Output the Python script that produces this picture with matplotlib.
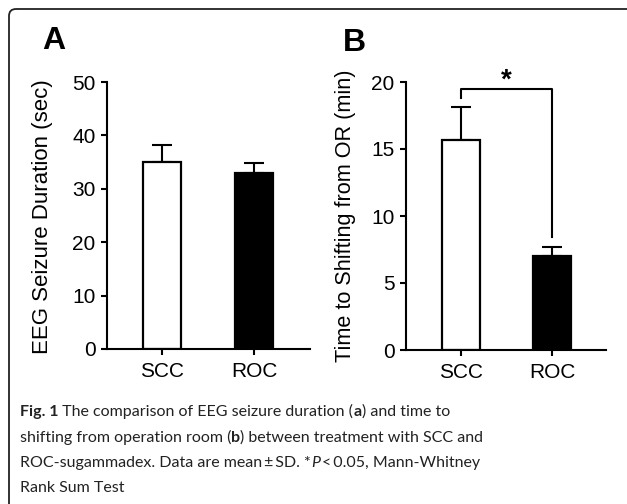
import matplotlib
matplotlib.use('Agg')
import matplotlib.pyplot as plt
from matplotlib.patches import FancyBboxPatch

plt.rcParams['font.family'] = ['Liberation Sans', 'DejaVu Sans']

groups = ['SCC', 'ROC']
eeg_mean = [35.0, 32.9]
eeg_sd = [3.2, 1.9]
shift_mean = [15.65, 7.05]
shift_sd = [2.45, 0.65]
bar_colors = ['white', 'black']

caption_lines = [
    [('Fig. 1', 'bold', 'normal'), (' The comparison of EEG seizure duration (', 'normal', 'normal'),
     ('a', 'bold', 'normal'), (') and time to', 'normal', 'normal')],
    [('shifting from operation room (', 'normal', 'normal'), ('b', 'bold', 'normal'),
     (') between treatment with SCC and', 'normal', 'normal')],
    [('ROC-sugammadex. Data are mean\u2009\u00b1\u2009SD. *', 'normal', 'normal'), ('P', 'normal', 'italic'),
     ('\u2009<\u20090.05, Mann-Whitney', 'normal', 'normal')],
    [('Rank Sum Test', 'normal', 'normal')],
]

W, H = 627, 504
fig = plt.figure(figsize=(W / 100, H / 100), dpi=100)

# overlay in pixel coordinates for frame, letters and caption
bg = fig.add_axes([0, 0, 1, 1])
bg.set_xlim(0, W)
bg.set_ylim(H, 0)
bg.axis('off')
frame = FancyBboxPatch((9, 9), 640, 520, boxstyle='round,pad=0,rounding_size=7',
                       fill=False, edgecolor='#222222', linewidth=1.3)
bg.add_patch(frame)
bg.text(53.5, 41, 'A', fontsize=23, fontweight='bold', ha='center', va='center')
bg.text(354, 43, 'B', fontsize=23, fontweight='bold', ha='center', va='center')
bg.text(43, 217, 'EEG Seizure Duration (sec)', fontsize=16, rotation=90, ha='center', va='center')
bg.text(345, 216, 'Time to Shifting from OR (min)', fontsize=15.6, rotation=90, ha='center', va='center')


def setup(ax, ymax, step):
    ax.spines['top'].set_visible(False)
    ax.spines['right'].set_visible(False)
    for s in ['left', 'bottom']:
        ax.spines[s].set_linewidth(1.5)
    ax.set_ylim(0, ymax)
    ax.set_yticks(range(0, ymax + 1, step))
    ax.set_xticks([0, 1])
    ax.set_xticklabels(groups)
    ax.tick_params(axis='both', labelsize=15, width=1.5, length=4.3, direction='out')
    ax.tick_params(axis='x', pad=5)
    ax.tick_params(axis='y', pad=4)
    ax.patch.set_alpha(0)


# panel A
axA = fig.add_axes([107 / W, 1 - 349 / H, 203 / W, 267 / H])
axA.bar([0, 1], eeg_mean, width=0.41, color=bar_colors, edgecolor='black', linewidth=1.6, zorder=2)
axA.errorbar([0, 1], eeg_mean, yerr=[[0, 0], eeg_sd], fmt='none', ecolor='black',
             elinewidth=1.5, capsize=7.5, capthick=1.5, zorder=1)
axA.set_xlim(-0.598, 1.609)
setup(axA, 50, 10)

# panel B
axB = fig.add_axes([406 / W, 1 - 350 / H, 200 / W, 268 / H])
axB.bar([0, 1], shift_mean, width=0.41, color=bar_colors, edgecolor='black', linewidth=1.6, zorder=2)
axB.errorbar([0, 1], shift_mean, yerr=[[0, 0], shift_sd], fmt='none', ecolor='black',
             elinewidth=1.5, capsize=7.5, capthick=1.5, zorder=1)
axB.set_xlim(-0.604, 1.593)
setup(axB, 20, 5)
axB.plot([0, 0, 1, 1], [18.8, 19.5, 19.5, 8.45], color='black', linewidth=1.5, clip_on=False)
axB.text(0.5, 19.15, '*', fontsize=20, fontweight='bold', ha='center', va='bottom')

# caption, drawn piece by piece
fig.canvas.draw()
renderer = fig.canvas.get_renderer()
baselines = [416, 442, 467, 492]
for line, yb in zip(caption_lines, baselines):
    x = 20
    for txt, weight, style in line:
        t = bg.text(x, yb, txt, fontsize=11.5, fontweight=weight, fontstyle=style,
                    family=['Lato', 'DejaVu Sans'], color='#222222', ha='left', va='baseline')
        bb = t.get_window_extent(renderer)
        x += bb.width

fig.savefig('out.png', dpi=100)
